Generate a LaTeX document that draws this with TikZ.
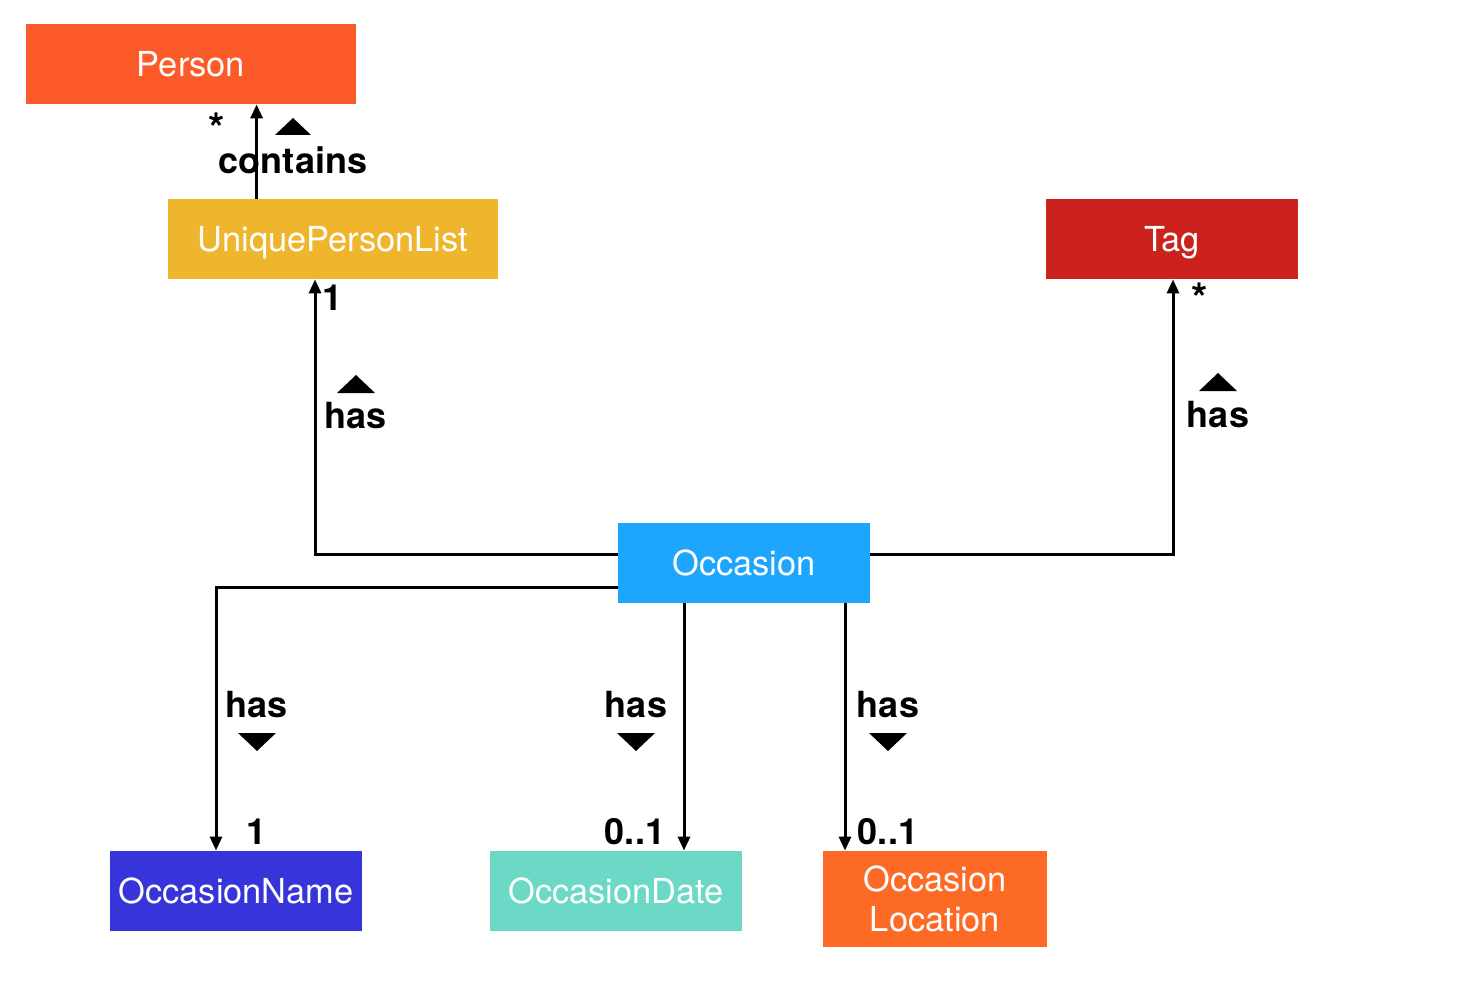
\documentclass[tikz,border=0pt]{standalone}
\usepackage{fontspec}
\setmainfont{TeX Gyre Heros}
\usetikzlibrary{arrows.meta}
\definecolor{cperson}{HTML}{FD5A2A}
\definecolor{cupl}{HTML}{EFB52D}
\definecolor{ctag}{HTML}{CB221E}
\definecolor{cocc}{HTML}{1EA5FD}
\definecolor{cname}{HTML}{3735D9}
\definecolor{cdate}{HTML}{6BD9C6}
\definecolor{cloc}{HTML}{FD6A25}
\tikzset{
  cls/.style={draw=none, text=white, inner sep=0pt, font=\fontsize{17.2}{20}\selectfont, align=center},
  one/.style={text height=13pt, text depth=0.5pt},
  lbl/.style={inner sep=0pt, font=\bfseries\fontsize{18}{20}\selectfont},
  star/.style={inner sep=0pt, font=\bfseries\fontsize{21}{22}\selectfont},
  conn/.style={line width=1.5pt, -{Stealth[length=7pt,width=6pt,inset=0pt]}},
  tri/.style={fill=black}
}
\begin{document}
\begin{tikzpicture}[x=0.5pt,y=-0.5pt]
\useasboundingbox (0,0) rectangle (1464,990);
% class boxes
\node[cls, one, fill=cperson, minimum width=165pt, minimum height=40pt] (person) at (191,64) {Person};
\node[cls, one, fill=cupl, minimum width=165pt, minimum height=40pt] (upl) at (333,239) {UniquePersonList};
\node[cls, one, fill=ctag, minimum width=126pt, minimum height=40pt] (tag) at (1172,239) {Tag};
\node[cls, one, fill=cocc, minimum width=126pt, minimum height=40pt] (occ) at (744,563) {Occasion};
\node[cls, one, fill=cname, minimum width=126pt, minimum height=40pt] (oname) at (236,891) {OccasionName};
\node[cls, one, fill=cdate, minimum width=126pt, minimum height=40pt] (odate) at (616,891) {OccasionDate};
\node[cls, fill=cloc, minimum width=112pt, minimum height=48pt] (oloc) at (935,899) {Occasion\\Location};
% connectors
\draw[conn] (upl.north west) ++(89,0) coordinate (c1) -- (c1 |- person.south);
\draw[conn] (occ.west |- 0,554) -- (315,554) coordinate (c2) -- (c2 |- upl.south);
\draw[conn] (occ.east |- 0,554) -- (1173,554) coordinate (c3) -- (c3 |- tag.south);
\draw[conn] (occ.west |- 0,587) -- (216,587) coordinate (c4) -- (c4 |- oname.north);
\draw[conn] (684,603) coordinate (c5) -- (c5 |- odate.north);
\draw[conn] (845,603) coordinate (c6) -- (c6 |- oloc.north);
% labels
\node[star] (m1) at (217,128) {*};
\node[lbl] (l1) at (293,160) {contains};
\fill[tri] (275,135) -- (311,135) -- (293,118) -- cycle;
\node[lbl] (m2) at (333,298) {1};
\node[lbl] (l2) at (356,416) {has};
\fill[tri] (337,393) -- (375,393) -- (356,375) -- cycle;
\node[star] (m3) at (1200,298) {*};
\node[lbl] (l3) at (1218,415) {has};
\fill[tri] (1199,391) -- (1237,391) -- (1218,373) -- cycle;
\node[lbl] (l4) at (257,705) {has};
\fill[tri] (238,733) -- (276,733) -- (257,751) -- cycle;
\node[lbl] (m4) at (257,832) {1};
\node[lbl] (l5) at (636,705) {has};
\fill[tri] (617,733) -- (655,733) -- (636,751) -- cycle;
\node[lbl] (m5) at (635,832) {0..1};
\node[lbl] (l6) at (888,705) {has};
\fill[tri] (869,733) -- (907,733) -- (888,751) -- cycle;
\node[lbl] (m6) at (888,832) {0..1};
\end{tikzpicture}
\end{document}
